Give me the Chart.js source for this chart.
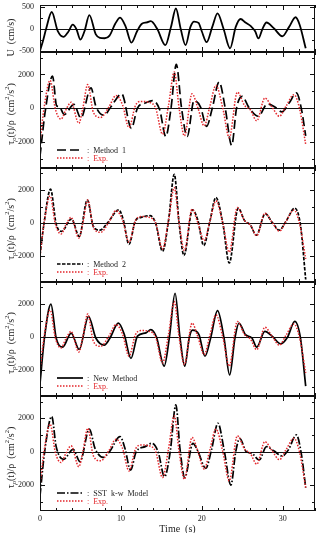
<!DOCTYPE html>
<html>
<head>
<meta charset="utf-8">
<script src="https://cdn.jsdelivr.net/npm/chart.js@4.4.1/dist/chart.umd.min.js"></script>
<style>
  html, body { margin: 0; padding: 0; background: #fff; }
  #wrap { position: relative; width: 318px; height: 533px; overflow: hidden; }
  canvas { position: absolute; left: 0; }
</style>
</head>
<body>
<div id="wrap">
  <canvas id="c0"></canvas>
  <canvas id="c1"></canvas>
  <canvas id="c2"></canvas>
  <canvas id="c3"></canvas>
  <canvas id="c4"></canvas>
</div>
<script>
// free stream velocity U(t)
const uTime = [0, 0.4, 0.75, 1.45, 2.2, 2.9, 3.5, 4.05, 4.5, 5.0, 5.5, 6.1, 6.9, 7.4, 8.0, 8.6, 9.3, 9.9, 10.6, 11.3, 12.0, 12.6, 13.2, 13.7, 14.5, 15.5, 16.2, 16.8, 17.4, 18.0, 18.6, 19.05, 19.6, 20.0, 20.6, 21.3, 21.95, 22.7, 23.5, 24.2, 24.8, 25.4, 26.1, 26.6, 27.0, 27.5, 28.0, 28.9, 29.95, 30.8, 31.6, 32.1, 32.85];
const uVals = [-500, -250, 0, 390, -50, -180, -60, 100, 0, -240, -50, 320, -120, -200, -210, -150, 120, 260, 50, -310, -50, 120, 150, 180, 0, -370, 50, 470, 0, -370, 50, 170, 140, -50, -300, 50, 360, 0, -440, 50, 230, 150, 60, -50, -215, 0, 150, 20, -165, 50, 270, 100, -440];

// measured bed shear stress (Exp.)
const expTime = [0, 0.5, 1.25, 1.9, 2.6, 3.2, 3.85, 4.8, 5.3, 5.9, 6.6, 7.5, 8.5, 9.4, 10.2, 11.0, 11.8, 12.5, 13.5, 14.3, 15.15, 15.9, 16.6, 17.2, 17.85, 18.8, 19.5, 20.3, 21.0, 21.75, 22.6, 23.4, 24.4, 25.3, 26.0, 26.8, 27.8, 28.7, 29.6, 30.4, 31.4, 32.1, 32.85];
const expVals = [-2000, 0, 1650, -50, -650, -100, 350, -900, 0, 1400, -250, -550, 50, 750, 200, -1150, 150, 400, 350, 0, -1550, 200, 2150, 0, -1650, 850, 50, -1050, 100, 1350, 0, -1750, 950, 150, -100, -750, 600, 50, -480, 100, 800, -50, -2150];

// Method 1
const m1Time = [0, 0.65, 1.55, 2.05, 2.4, 3.0, 4.2, 5.05, 6.3, 6.9, 7.9, 8.8, 10.1, 11.3, 12.05, 13.1, 13.9, 14.8, 15.55, 16.2, 16.85, 17.5, 18.2, 19.05, 19.85, 20.6, 21.3, 22.15, 22.9, 23.7, 24.3, 25.0, 25.8, 27.0, 28.1, 29.1, 29.9, 30.8, 31.7, 32.3, 32.85];
const m1Vals = [-2850, -180, 1900, 150, 80, -380, 220, -580, 1200, 120, -420, 100, 850, -1200, 0, 320, 450, -100, -1680, 0, 2600, 0, -1680, 450, 60, -1080, 0, 1550, 0, -2200, 0, 700, 60, -480, 250, 50, -220, 300, 900, 0, -1650];

// Method 2
const m2Time = [0, 0.5, 1.3, 2.0, 2.65, 3.9, 4.85, 5.85, 6.6, 7.4, 8.4, 9.75, 10.3, 11.0, 11.8, 12.5, 13.6, 14.3, 15.15, 15.9, 16.6, 17.2, 17.8, 18.85, 19.5, 20.25, 21.0, 21.75, 22.6, 23.4, 24.5, 25.3, 26.0, 26.75, 27.85, 28.7, 29.6, 30.4, 31.5, 32.2, 32.85];
const m2Vals = [-1900, 0, 2050, -50, -500, 250, -800, 1400, -200, -420, 50, 800, 200, -1280, 150, 350, 450, 0, -1700, 200, 2950, 0, -1950, 800, 200, -1350, 100, 1550, 0, -2400, 900, 150, -100, -730, 580, 50, -420, 100, 900, -100, -3400];

// New Method
const nmTime = [0, 0.55, 1.35, 2.0, 2.8, 3.85, 4.85, 6.0, 6.9, 7.95, 8.6, 9.7, 10.4, 11.25, 12.05, 13.1, 13.7, 14.4, 15.35, 16.0, 16.7, 17.3, 17.9, 18.45, 18.85, 19.65, 20.4, 21.1, 21.95, 22.75, 23.45, 24.1, 24.6, 25.4, 26.2, 26.8, 27.8, 28.7, 29.75, 30.6, 31.5, 32.2, 32.85];
const nmVals = [-2800, -50, 2000, -50, -600, 250, -740, 1250, -50, -480, -100, 850, 200, -1280, 60, 260, 460, 0, -1750, 0, 2650, 0, -1750, -50, 420, 150, -1150, -50, 1600, -50, -2280, -50, 850, 150, -50, -600, 350, 60, -400, 0, 950, -50, -2950];

// SST k-w Model
const sstTime = [0, 0.55, 1.45, 2.0, 2.9, 4.1, 4.95, 6.1, 6.8, 7.8, 8.6, 9.9, 10.5, 11.2, 11.9, 13.0, 13.8, 14.6, 15.4, 16.1, 16.8, 17.3, 17.9, 18.9, 19.5, 20.5, 21.2, 22.0, 22.8, 23.6, 24.2, 24.7, 25.5, 26.2, 27.1, 28.0, 28.9, 29.95, 30.7, 31.7, 32.3, 32.85];
const sstVals = [-2650, -100, 2100, 300, -460, 140, -600, 1350, 200, -340, 0, 900, 200, -1100, 0, 300, 500, 0, -1500, 0, 2800, 200, -1550, 500, 50, -1000, 100, 1700, 0, -2000, 0, 800, 0, -100, -500, 300, 50, -260, 100, 1000, -100, -2150];

const xTickLabels = [0, 10, 20, 30];
const uTickLabels = [-500, 0, 500];
const tauTickLabels = [-2000, 0, 2000];

const RED = '#e3262b';
const FONT = "'Liberation Serif', 'Times New Roman', serif";

function pts(ts, vs) {
    return ts.map(function (t, i) { return { x: t, y: vs[i] }; });
}

const tauTitle = [
    { s: '\u03c4', m: 'n' }, { s: 'o', m: 'sub' }, { s: '(t)/\u03c1  (cm', m: 'n' },
    { s: '2', m: 'sup' }, { s: '/s', m: 'n' }, { s: '2', m: 'sup' }, { s: ')', m: 'n' }
];

const panels = [
    { top: 5, bottom: 52, min: -525, max: 550, minor: 250, labels: uTickLabels,
      title: [{ s: 'U  (cm/s)', m: 'n' }], titleShift: 5,
      series: [{ data: pts(uTime, uVals), color: '#000', dash: [], width: 1.8 }] },
    { top: 52, bottom: 168, min: -3550, max: 3330, minor: 1000, labels: tauTickLabels,
      title: tauTitle, legend: 'Method  1',
      series: [{ data: pts(m1Time, m1Vals), color: '#000', dash: [9, 4], width: 1.7 }] },
    { top: 168, bottom: 282, min: -3550, max: 3330, minor: 1000, labels: tauTickLabels,
      title: tauTitle, legend: 'Method  2',
      series: [{ data: pts(m2Time, m2Vals), color: '#000', dash: [3.5, 1.5], width: 1.7 }] },
    { top: 282, bottom: 396, min: -3550, max: 3330, minor: 1000, labels: tauTickLabels,
      title: tauTitle, legend: 'New  Method',
      series: [{ data: pts(nmTime, nmVals), color: '#000', dash: [], width: 1.7 }] },
    { top: 396, bottom: 511, min: -3550, max: 3330, minor: 1000, labels: tauTickLabels,
      title: tauTitle, legend: 'SST  k-w  Model',
      series: [{ data: pts(sstTime, sstVals), color: '#000', dash: [8, 2, 1.5, 2], width: 1.7 }] }
];

function drawRich(ctx, parts, cx, cy, size) {
    ctx.save();
    ctx.translate(cx, cy);
    ctx.rotate(-Math.PI / 2);
    ctx.fillStyle = '#222';
    ctx.textAlign = 'left';
    ctx.textBaseline = 'alphabetic';
    var total = 0;
    parts.forEach(function (p) {
        ctx.font = (p.m === 'n' ? size : size * 0.65) + 'px ' + FONT;
        p.w = ctx.measureText(p.s).width;
        total += p.w;
    });
    var x = -total / 2;
    parts.forEach(function (p) {
        ctx.font = (p.m === 'n' ? size : size * 0.65) + 'px ' + FONT;
        var dy = p.m === 'sub' ? size * 0.2 : (p.m === 'sup' ? -size * 0.42 : 0);
        ctx.fillText(p.s, x, size * 0.35 + dy);
        x += p.w;
    });
    ctx.restore();
}

const framePlugin = {
    id: 'frame',
    beforeDatasetsDraw(chart, args, o) {
        const ctx = chart.ctx, a = chart.chartArea, y = chart.scales.y;
        ctx.save();
        ctx.strokeStyle = '#111';
        ctx.lineWidth = 1;
        const y0 = Math.round(y.getPixelForValue(0)) + 0.5;
        ctx.beginPath();
        ctx.moveTo(a.left, y0);
        ctx.lineTo(a.right, y0);
        ctx.stroke();
        ctx.restore();
    },
    afterDatasetsDraw(chart, args, o) {
        const ctx = chart.ctx, a = chart.chartArea, x = chart.scales.x, y = chart.scales.y;
        ctx.save();
        ctx.strokeStyle = '#111';
        ctx.lineWidth = 1;
        ctx.strokeRect(a.left + 0.5, a.top + 0.5, a.right - a.left - 1, a.bottom - a.top - 1);
        ctx.beginPath();
        for (var t = 0; t <= x.max; t += 2) {
            var px = Math.round(x.getPixelForValue(t)) + 0.5;
            var len = t % 10 === 0 ? 5 : 3;
            ctx.moveTo(px, a.top); ctx.lineTo(px, a.top + len);
            ctx.moveTo(px, a.bottom); ctx.lineTo(px, a.bottom - len);
        }
        for (var v = Math.ceil(y.min / o.minor) * o.minor; v <= y.max; v += o.minor) {
            var py = Math.round(y.getPixelForValue(v)) + 0.5;
            var l2 = o.labels.indexOf(v) >= 0 ? 5 : 3;
            ctx.moveTo(a.left, py); ctx.lineTo(a.left + l2, py);
            ctx.moveTo(a.right, py); ctx.lineTo(a.right - l2, py);
        }
        ctx.stroke();

        // tick labels
        ctx.fillStyle = '#222';
        ctx.font = '8px ' + FONT;
        ctx.textAlign = 'right';
        ctx.textBaseline = 'middle';
        o.labels.forEach(function (val) {
            ctx.fillText(String(val), a.left - 6, y.getPixelForValue(val));
        });
        if (o.last) {
            ctx.textAlign = 'center';
            ctx.textBaseline = 'top';
            xTickLabels.forEach(function (val) {
                ctx.fillText(String(val), x.getPixelForValue(val), a.bottom + 4);
            });
            ctx.font = '10px ' + FONT;
            ctx.fillText('Time  (s)', (a.left + a.right) / 2, a.bottom + 13);
        }

        drawRich(ctx, o.title, 10, (a.top + a.bottom) / 2 + 4 + (o.titleShift || 0), 10);

        if (o.legend) {
            const s = chart.data.datasets[1];
            const lx = a.left + 17, lw = 26;
            const yb = a.bottom - 18, yr = a.bottom - 10;
            ctx.lineWidth = s.borderWidth;
            ctx.strokeStyle = '#000';
            ctx.setLineDash(s.borderDash);
            ctx.beginPath(); ctx.moveTo(lx, yb); ctx.lineTo(lx + lw, yb); ctx.stroke();
            ctx.lineWidth = 1.5;
            ctx.strokeStyle = RED;
            ctx.setLineDash([1.5, 1.5]);
            ctx.beginPath(); ctx.moveTo(lx, yr); ctx.lineTo(lx + lw, yr); ctx.stroke();
            ctx.setLineDash([]);
            ctx.font = '8px ' + FONT;
            ctx.textAlign = 'left';
            ctx.textBaseline = 'middle';
            ctx.fillStyle = '#222';
            ctx.fillText(':  ' + o.legend, lx + lw + 4, yb + 0.5);
            ctx.fillStyle = RED;
            ctx.fillText(':  Exp.', lx + lw + 4, yr + 0.5);
        }
        ctx.restore();
    }
};

panels.forEach(function (p, i) {
    const last = i === panels.length - 1;
    const canvas = document.getElementById('c' + i);
    const ctop = p.top - 6;
    const h = last ? 533 - ctop : (p.bottom - p.top) + 12;
    canvas.width = 318;
    canvas.height = h;
    canvas.style.top = ctop + 'px';

    const datasets = [];
    if (i > 0) {
        datasets.push({ data: pts(expTime, expVals), borderColor: RED, borderDash: [1.5, 1.5], borderWidth: 1.5 });
    }
    p.series.forEach(function (s) {
        datasets.push({ data: s.data, borderColor: s.color, borderDash: s.dash, borderWidth: s.width });
    });

    new Chart(canvas, {
        type: 'line',
        data: { datasets: datasets },
        options: {
            responsive: false,
            animation: false,
            events: [],
            layout: { padding: { top: 6, bottom: last ? 22 : 6, left: 40, right: 3 } },
            elements: {
                point: { radius: 0 },
                line: { cubicInterpolationMode: 'monotone', fill: false, borderCapStyle: 'butt' }
            },
            scales: {
                x: { type: 'linear', min: 0, max: 34, display: false },
                y: { type: 'linear', min: p.min, max: p.max, display: false }
            },
            plugins: {
                legend: { display: false },
                tooltip: { enabled: false },
                frame: { minor: p.minor, labels: p.labels, title: p.title, titleShift: p.titleShift, legend: p.legend, last: last }
            }
        },
        plugins: [framePlugin]
    });
});
</script>
</body>
</html>
